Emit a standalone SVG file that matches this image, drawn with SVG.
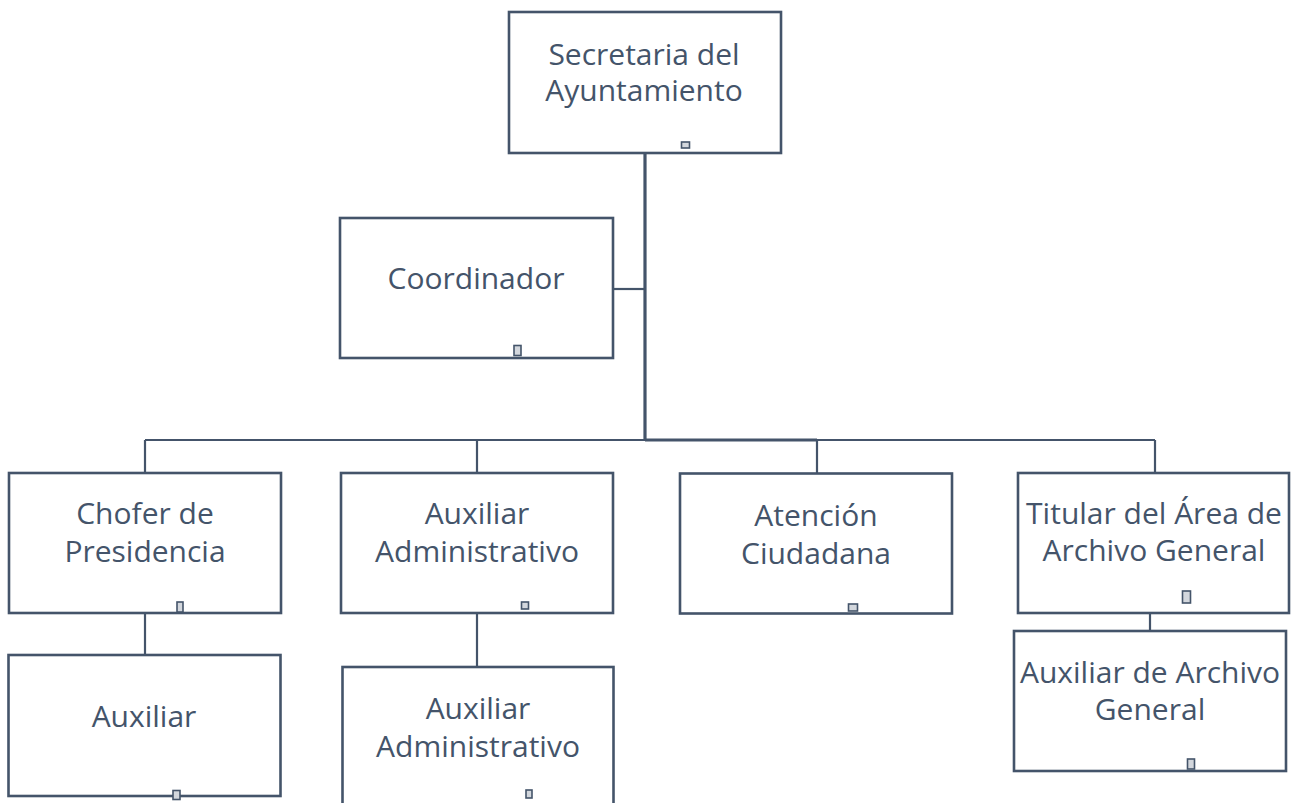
<svg xmlns="http://www.w3.org/2000/svg" width="1291" height="803" viewBox="0 0 1291 803">
  <style>
    .box { fill: #ffffff; stroke: #44546A; stroke-width: 2.6; }
    .lbl { font-family: "Open Sans", "Noto Sans", sans-serif; font-size: 30px; fill: #44546A; text-anchor: middle; }
    .ico { fill: #D3D7DD; stroke: #44546A; stroke-width: 1.6; }
    .wire { fill: none; stroke: #44546A; stroke-width: 2.2; }
    .trunk { fill: none; stroke: #44546A; stroke-width: 3.2; }
  </style>
  <rect width="1291" height="803" fill="#ffffff"/>

  <!-- connectors -->
  <g id="connectors">
    <path class="trunk" d="M645 153 V440"/>
    <path class="wire" d="M613 289 H645"/>
    <path class="wire" d="M145 440 H1155"/>
    <path class="trunk" d="M645 440 H817"/>
    <path class="wire" d="M145 440 V473"/>
    <path class="wire" d="M477 440 V473"/>
    <path class="wire" d="M817 440 V473"/>
    <path class="wire" d="M1155 440 V473"/>
    <path class="wire" d="M145 613 V655"/>
    <path class="wire" d="M477 613 V667"/>
    <path class="wire" d="M1150 613 V631"/>
  </g>

  <!-- nodes -->
  <g id="secretaria">
    <rect class="box" x="509" y="12" width="272" height="141"/>
    <text class="lbl" x="644" y="65">Secretaria del</text>
    <text class="lbl" x="644" y="101">Ayuntamiento</text>
    <rect class="ico" x="681.5" y="142" width="8" height="6"/>
  </g>

  <g id="coordinador">
    <rect class="box" x="340" y="218" width="273" height="140"/>
    <text class="lbl" x="476" y="289">Coordinador</text>
    <rect class="ico" x="514" y="345.5" width="7" height="10"/>
  </g>

  <g id="chofer">
    <rect class="box" x="9" y="473" width="272" height="140"/>
    <text class="lbl" x="145" y="524">Chofer de</text>
    <text class="lbl" x="145" y="562">Presidencia</text>
    <rect class="ico" x="177" y="602" width="6" height="10"/>
  </g>

  <g id="auxiliar">
    <rect class="box" x="8.5" y="655" width="272" height="141"/>
    <text class="lbl" x="144" y="727">Auxiliar</text>
    <rect class="ico" x="173" y="790.5" width="7" height="9"/>
  </g>

  <g id="aux-admin-1">
    <rect class="box" x="341" y="473" width="272" height="140"/>
    <text class="lbl" x="477" y="524">Auxiliar</text>
    <text class="lbl" x="477" y="562">Administrativo</text>
    <rect class="ico" x="521.5" y="602" width="7" height="7"/>
  </g>

  <g id="aux-admin-2">
    <rect class="box" x="342.5" y="667" width="271" height="150"/>
    <text class="lbl" x="478" y="719">Auxiliar</text>
    <text class="lbl" x="478" y="757">Administrativo</text>
    <rect class="ico" x="526" y="790" width="6" height="8"/>
  </g>

  <g id="atencion">
    <rect class="box" x="680" y="473.5" width="272" height="140"/>
    <text class="lbl" x="816" y="526">Atención</text>
    <text class="lbl" x="816" y="564">Ciudadana</text>
    <rect class="ico" x="848.5" y="604" width="9" height="7"/>
  </g>

  <g id="titular-archivo">
    <rect class="box" x="1018" y="473" width="271" height="140"/>
    <text class="lbl" x="1154" y="524">Titular del Área de</text>
    <text class="lbl" x="1154" y="561">Archivo General</text>
    <rect class="ico" x="1182.5" y="591" width="8" height="12"/>
  </g>

  <g id="auxiliar-archivo">
    <rect class="box" x="1014" y="631" width="272" height="140"/>
    <text class="lbl" x="1150" y="683">Auxiliar de Archivo</text>
    <text class="lbl" x="1150" y="720">General</text>
    <rect class="ico" x="1187.5" y="759" width="7" height="10"/>
  </g>
</svg>
